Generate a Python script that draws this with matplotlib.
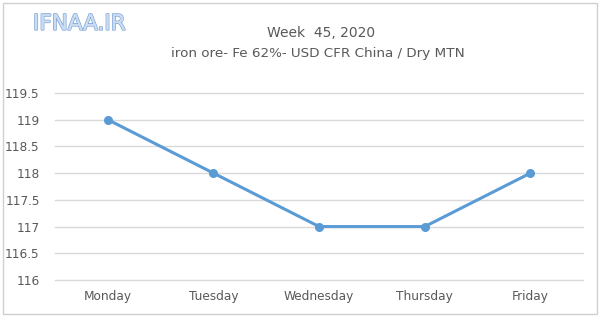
import matplotlib
matplotlib.use("Agg")
import matplotlib.pyplot as plt
from matplotlib.patches import Rectangle
import matplotlib.patheffects as pe

# data
days = ["Monday", "Tuesday", "Wednesday", "Thursday", "Friday"]
prices = [119, 118, 117, 117, 118]
yticks = [116, 116.5, 117, 117.5, 118, 118.5, 119, 119.5]
ytick_labels = ["116", "116.5", "117", "117.5", "118", "118.5", "119", "119.5"]

fig = plt.figure(figsize=(6, 3.17), dpi=100)
ax = fig.add_axes([0.0917, 0.1167, 0.8803, 0.59])

# outer frame
fig.patches.append(Rectangle((0.005, 0.008), 0.99, 0.984, transform=fig.transFigure,
                             fill=False, edgecolor="#d0d0d0", linewidth=1))

x = list(range(len(days)))
ax.plot(x, prices, color="#5b9bd5", linewidth=2.2, marker="o", markersize=5.5, zorder=3)

ax.set_xlim(-0.5, len(days) - 0.5)
ax.set_ylim(116, 119.5)
ax.set_yticks(yticks)
ax.set_yticklabels(ytick_labels)
ax.set_xticks(x)
ax.set_xticklabels(days)
ax.grid(axis="y", color="#d9d9d9", linewidth=1)
for gl in ax.get_ygridlines():
    gl.set_clip_on(False)
ax.set_axisbelow(True)
for s in ax.spines.values():
    s.set_visible(False)
ax.tick_params(length=0, labelsize=8.7, labelcolor="#595959")
ax.tick_params(axis="y", pad=11)
ax.tick_params(axis="x", pad=7)

fig.text(0.535, 0.896, "Week  45, 2020", ha="center", va="center", fontsize=10, color="#595959")
fig.text(0.53, 0.831, "iron ore- Fe 62%- USD CFR China / Dry MTN", ha="center", va="center",
         fontsize=9.7, color="#595959")
logo = fig.text(0.055, 0.925, "IFNAA.IR", ha="left", va="center", fontsize=15.5, color="#c9dcf2")
logo.set_path_effects([pe.withStroke(linewidth=1.2, foreground="#7fa6d6"), pe.Normal()])

fig.savefig("out.png", dpi=100)
